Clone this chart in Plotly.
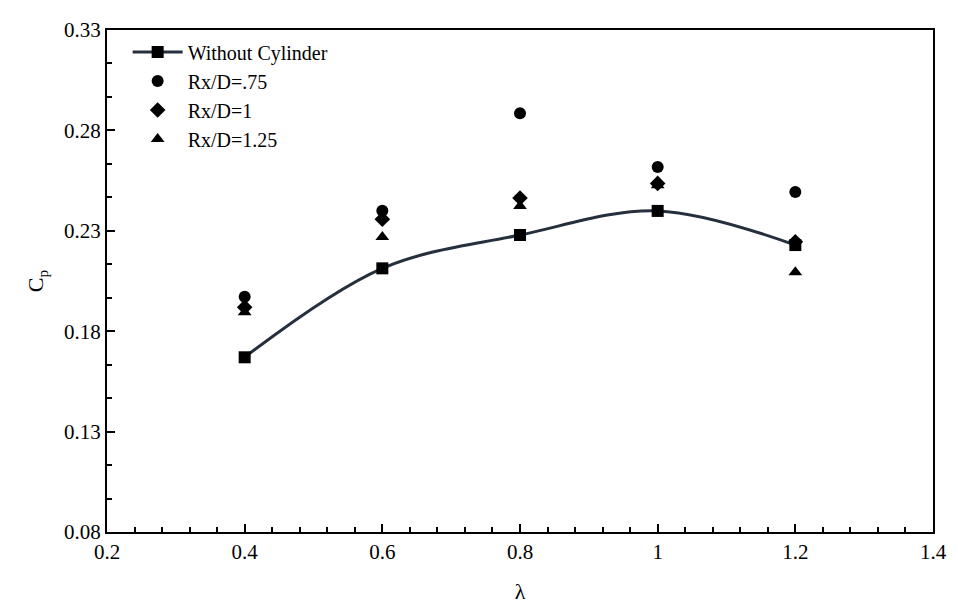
import plotly.graph_objects as go

lam = [0.4, 0.6, 0.8, 1.0, 1.2]
without_cyl = [0.167, 0.2113, 0.2279, 0.2399, 0.2229]
rx_075 = [0.1972, 0.2400, 0.2885, 0.2618, 0.2493]
rx_1 = [0.1919, 0.2358, 0.2463, 0.2536, 0.2245]
rx_125 = [0.1894, 0.2269, 0.2423, 0.2527, 0.2094]

ff = "Liberation Serif"

fig = go.Figure()
fig.add_trace(go.Scatter(x=lam, y=rx_075, mode="markers", name="Rx/D=.75", legendrank=2, legendgroup="b",
                         marker=dict(symbol="circle", size=12, color="black")))
fig.add_trace(go.Scatter(x=lam, y=rx_1, mode="markers", name="Rx/D=1", legendrank=3, legendgroup="c",
                         marker=dict(symbol="diamond", size=12, color="black")))
fig.add_trace(go.Scatter(x=lam, y=rx_125, mode="markers", name="Rx/D=1.25", legendrank=4, legendgroup="d",
                         marker=dict(symbol="triangle-up", size=12, color="black")))
fig.add_trace(go.Scatter(x=lam, y=without_cyl, mode="lines+markers", name="Without Cylinder", legendrank=1,
                         legendgroup="a",
                         line=dict(color="#262f3d", width=3, shape="spline", smoothing=1.0),
                         marker=dict(symbol="square", size=12, color="black")))

fig.update_layout(
    width=958, height=610,
    margin=dict(l=99, r=33, t=10, b=86),
    plot_bgcolor="white", paper_bgcolor="white",
    font=dict(family=ff, size=20, color="black"),
    showlegend=True,
    legend=dict(x=0.025, y=0.995, xanchor="left", yanchor="top",
                bgcolor="rgba(0,0,0,0)", font=dict(family=ff, size=20, color="black"),
                itemwidth=50, tracegroupgap=2, traceorder="normal"),
    xaxis=dict(range=[0.2, 1.4], tickvals=[0.2, 0.4, 0.6, 0.8, 1.0, 1.2, 1.4],
               ticktext=["0.2", "0.4", "0.6", "0.8", "1", "1.2", "1.4"],
               showgrid=False, zeroline=False, showline=True, linecolor="black", linewidth=2,
               mirror=True, ticks="inside", ticklen=8, tickcolor="black", tickwidth=1.5,
               minor=dict(dtick=0.04, ticks="inside", ticklen=5, tickcolor="black", tickwidth=1.5),
               title=dict(text="λ", font=dict(family=ff, size=22, color="black"), standoff=20),
               tickfont=dict(family=ff, size=21, color="black")),
    yaxis=dict(range=[0.08, 0.33], tickvals=[0.08, 0.13, 0.18, 0.23, 0.28, 0.33],
               ticktext=["0.08", "0.13", "0.18", "0.23", "0.28", "0.33"],
               showgrid=False, zeroline=False, showline=True, linecolor="black", linewidth=2,
               mirror=True, ticks="inside", ticklen=8, tickcolor="black", tickwidth=1.5,
               minor=dict(tick0=0.08, dtick=0.05/3, ticks="inside", ticklen=5, tickcolor="black", tickwidth=1.5),
               title=dict(text="C<sub>p</sub>", font=dict(family=ff, size=22, color="black"), standoff=14),
               tickfont=dict(family=ff, size=21, color="black")),
)

fig.write_html("out.html")
